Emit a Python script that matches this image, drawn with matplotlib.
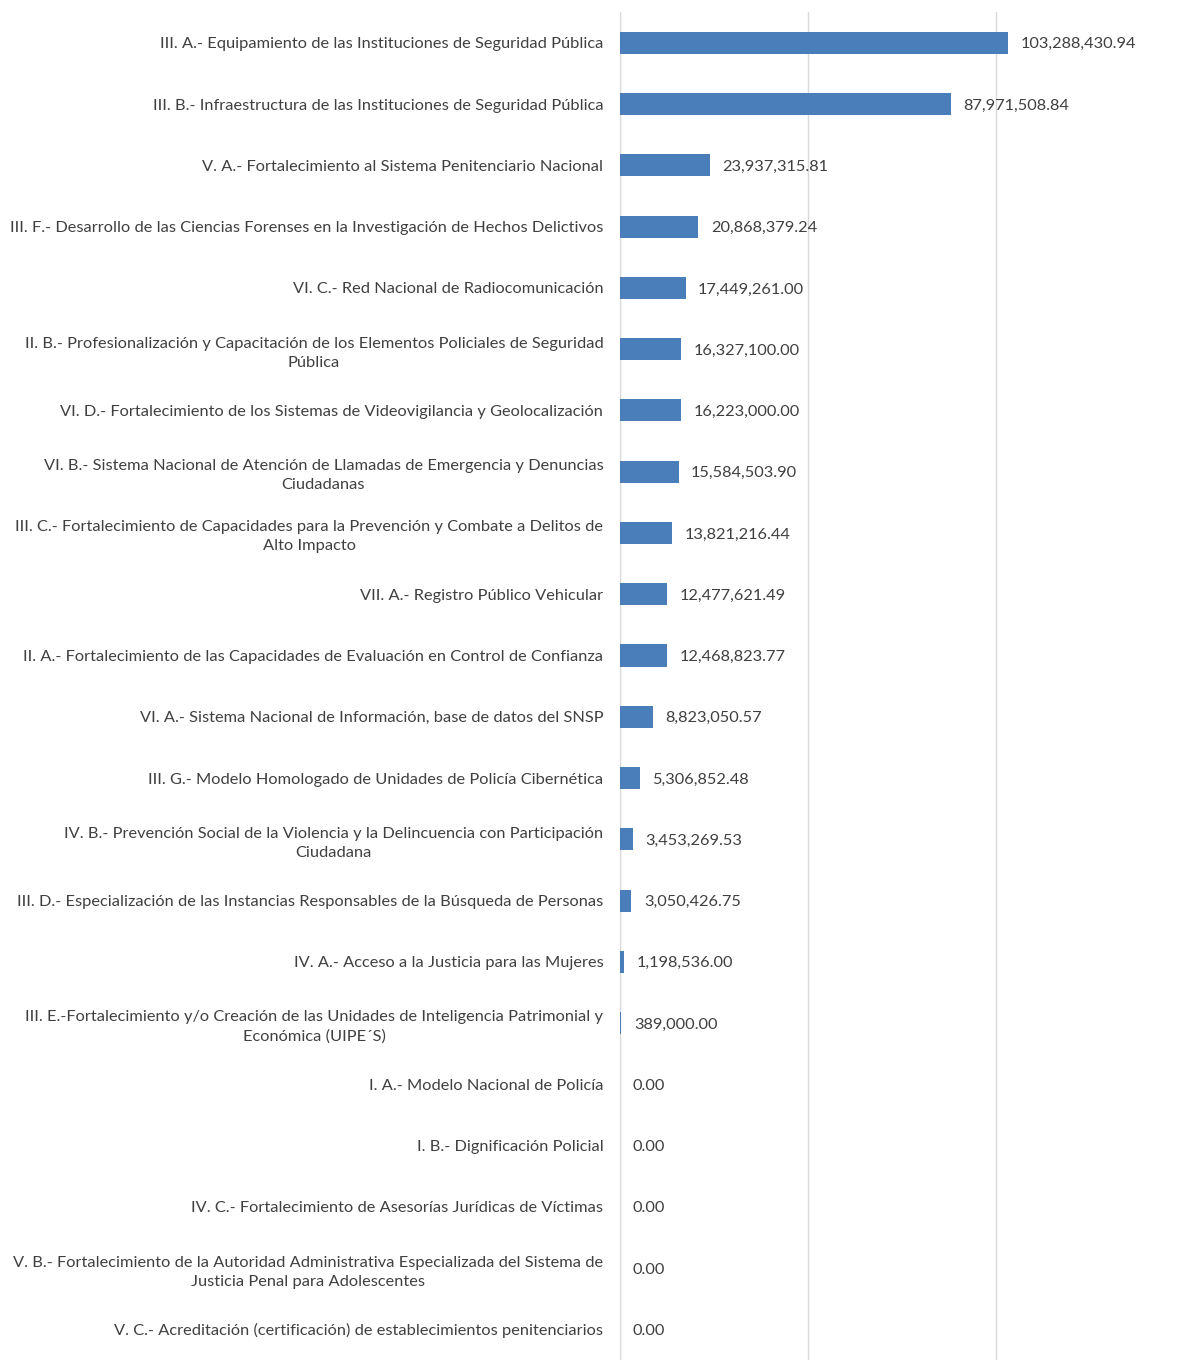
import numpy as np
import matplotlib.pyplot as plt

categories = [
    "III. A.- Equipamiento de las Instituciones de Seguridad Pública",
    "III. B.- Infraestructura de las Instituciones de Seguridad Pública",
    "V. A.- Fortalecimiento al Sistema Penitenciario Nacional",
    "III. F.- Desarrollo de las Ciencias Forenses en la Investigación de Hechos Delictivos",
    "VI. C.- Red Nacional de Radiocomunicación",
    "II. B.- Profesionalización y Capacitación de los Elementos Policiales de Seguridad\nPública",
    "VI. D.- Fortalecimiento de los Sistemas de Videovigilancia y Geolocalización",
    "VI. B.- Sistema Nacional de Atención de Llamadas de Emergencia y Denuncias\nCiudadanas",
    "III. C.- Fortalecimiento de Capacidades para la Prevención y Combate a Delitos de\nAlto Impacto",
    "VII. A.- Registro Público Vehicular",
    "II. A.- Fortalecimiento de las Capacidades de Evaluación en Control de Confianza",
    "VI. A.- Sistema Nacional de Información, base de datos del SNSP",
    "III. G.- Modelo Homologado de Unidades de Policía Cibernética",
    "IV. B.- Prevención Social de la Violencia y la Delincuencia con Participación\nCiudadana",
    "III. D.- Especialización de las Instancias Responsables de la Búsqueda de Personas",
    "IV. A.- Acceso a la Justicia para las Mujeres",
    "III. E.-Fortalecimiento y/o Creación de las Unidades de Inteligencia Patrimonial y\nEconómica (UIPE´S)",
    "I. A.- Modelo Nacional de Policía",
    "I. B.- Dignificación Policial",
    "IV. C.- Fortalecimiento de Asesorías Jurídicas de Víctimas",
    "V. B.- Fortalecimiento de la Autoridad Administrativa Especializada del Sistema de\nJusticia Penal para Adolescentes",
    "V. C.- Acreditación (certificación) de establecimientos penitenciarios",
]

values = [
    103288430.94, 87971508.84, 23937315.81, 20868379.24, 17449261.00,
    16327100.00, 16223000.00, 15584503.90, 13821216.44, 12477621.49,
    12468823.77, 8823050.57, 5306852.48, 3453269.53, 3050426.75,
    1198536.00, 389000.00, 0.00, 0.00, 0.00, 0.00, 0.00,
]

plt.rcParams['font.family'] = ['Lato', 'DejaVu Sans']
text_color = '#404040'

fig = plt.figure(figsize=(11.84, 13.6), dpi=100)
ax = fig.add_axes([0.5236, 0.0, 0.4764, 0.991])

y = np.arange(len(categories))
ax.barh(y, values, height=0.36, color='#4a7ebb', zorder=3)

for yi, v in zip(y, values):
    ax.annotate('{:,.2f}'.format(v), xy=(v, yi), xytext=(9, 0),
                textcoords='offset points', va='center_baseline', ha='left',
                fontsize=11.8, color=text_color)

ax.set_ylim(len(categories) - 0.5, -0.5)
ax.set_xlim(0, 150e6)
ax.set_xticks([0, 50e6, 100e6])
ax.set_xticklabels([])
ax.tick_params(axis='x', length=0)
ax.grid(axis='x', color='#d9d9d9', linewidth=1, zorder=0)

ax.set_yticks(y)
ax.set_yticklabels(categories, fontsize=11.8, color=text_color,
                   multialignment='center', linespacing=1.45)
ax.tick_params(axis='y', length=0, pad=12)

for side in ['top', 'right', 'bottom']:
    ax.spines[side].set_visible(False)
ax.spines['left'].set_color('#d9d9d9')

fig.savefig('out.png', dpi=100)
